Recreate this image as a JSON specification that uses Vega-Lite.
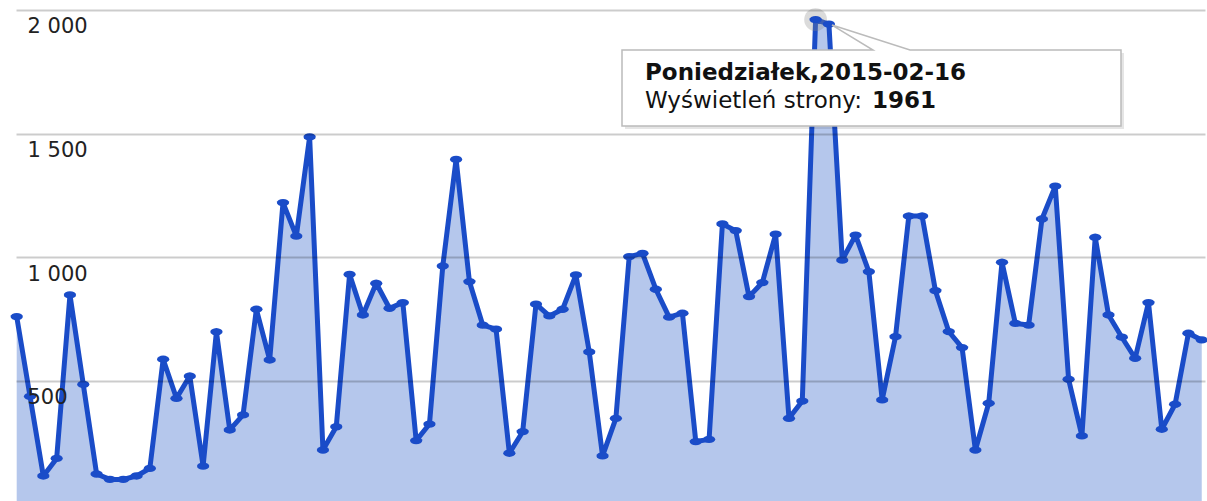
{
  "$schema": "https://vega.github.io/schema/vega-lite/v6.json",
  "width": 1189,
  "height": 501,
  "autosize": {"type": "none"},
  "padding": {"left": 16, "right": 2, "top": 0, "bottom": 0},
  "background": "white",
  "config": {"view": {"stroke": null}},
  "data": {
    "values": [
      {"date": "2014-12-18", "views": 760},
      {"date": "2014-12-19", "views": 438},
      {"date": "2014-12-20", "views": 116},
      {"date": "2014-12-21", "views": 187},
      {"date": "2014-12-22", "views": 848},
      {"date": "2014-12-23", "views": 486},
      {"date": "2014-12-24", "views": 124},
      {"date": "2014-12-25", "views": 102},
      {"date": "2014-12-26", "views": 102},
      {"date": "2014-12-27", "views": 116},
      {"date": "2014-12-28", "views": 147},
      {"date": "2014-12-29", "views": 588},
      {"date": "2014-12-30", "views": 430},
      {"date": "2014-12-31", "views": 520},
      {"date": "2015-01-01", "views": 156},
      {"date": "2015-01-02", "views": 699},
      {"date": "2015-01-03", "views": 302},
      {"date": "2015-01-04", "views": 363},
      {"date": "2015-01-05", "views": 790},
      {"date": "2015-01-06", "views": 585},
      {"date": "2015-01-07", "views": 1221},
      {"date": "2015-01-08", "views": 1086},
      {"date": "2015-01-09", "views": 1487},
      {"date": "2015-01-10", "views": 221},
      {"date": "2015-01-11", "views": 315},
      {"date": "2015-01-12", "views": 931},
      {"date": "2015-01-13", "views": 767},
      {"date": "2015-01-14", "views": 895},
      {"date": "2015-01-15", "views": 794},
      {"date": "2015-01-16", "views": 817},
      {"date": "2015-01-17", "views": 259},
      {"date": "2015-01-18", "views": 326},
      {"date": "2015-01-19", "views": 965},
      {"date": "2015-01-20", "views": 1396},
      {"date": "2015-01-21", "views": 902},
      {"date": "2015-01-22", "views": 726},
      {"date": "2015-01-23", "views": 710},
      {"date": "2015-01-24", "views": 208},
      {"date": "2015-01-25", "views": 295},
      {"date": "2015-01-26", "views": 811},
      {"date": "2015-01-27", "views": 763},
      {"date": "2015-01-28", "views": 790},
      {"date": "2015-01-29", "views": 929},
      {"date": "2015-01-30", "views": 618},
      {"date": "2015-01-31", "views": 197},
      {"date": "2015-02-01", "views": 349},
      {"date": "2015-02-02", "views": 1003},
      {"date": "2015-02-03", "views": 1016},
      {"date": "2015-02-04", "views": 871},
      {"date": "2015-02-05", "views": 758},
      {"date": "2015-02-06", "views": 774},
      {"date": "2015-02-07", "views": 255},
      {"date": "2015-02-08", "views": 264},
      {"date": "2015-02-09", "views": 1135},
      {"date": "2015-02-10", "views": 1108},
      {"date": "2015-02-11", "views": 841},
      {"date": "2015-02-12", "views": 898},
      {"date": "2015-02-13", "views": 1094},
      {"date": "2015-02-14", "views": 349},
      {"date": "2015-02-15", "views": 419},
      {"date": "2015-02-16", "views": 1961},
      {"date": "2015-02-17", "views": 1943},
      {"date": "2015-02-18", "views": 989},
      {"date": "2015-02-19", "views": 1090},
      {"date": "2015-02-20", "views": 942},
      {"date": "2015-02-21", "views": 424},
      {"date": "2015-02-22", "views": 679},
      {"date": "2015-02-23", "views": 1167},
      {"date": "2015-02-24", "views": 1167},
      {"date": "2015-02-25", "views": 865},
      {"date": "2015-02-26", "views": 700},
      {"date": "2015-02-27", "views": 635},
      {"date": "2015-02-28", "views": 221},
      {"date": "2015-03-01", "views": 410},
      {"date": "2015-03-02", "views": 980},
      {"date": "2015-03-03", "views": 733},
      {"date": "2015-03-04", "views": 726},
      {"date": "2015-03-05", "views": 1155},
      {"date": "2015-03-06", "views": 1288},
      {"date": "2015-03-07", "views": 507},
      {"date": "2015-03-08", "views": 278},
      {"date": "2015-03-09", "views": 1081},
      {"date": "2015-03-10", "views": 767},
      {"date": "2015-03-11", "views": 677},
      {"date": "2015-03-12", "views": 592},
      {"date": "2015-03-13", "views": 817},
      {"date": "2015-03-14", "views": 305},
      {"date": "2015-03-15", "views": 406},
      {"date": "2015-03-16", "views": 693},
      {"date": "2015-03-17", "views": 666}
    ]
  },
  "encoding": {
    "x": {
      "field": "date",
      "type": "temporal",
      "scale": {
        "type": "utc",
        "domain": [
          {"year": 2014, "month": 12, "date": 17, "hours": 22, "minutes": 44, "utc": true},
          {"year": 2015, "month": 3, "date": 17, "hours": 5, "minutes": 53, "utc": true}
        ]
      },
      "axis": null
    },
    "y": {
      "field": "views",
      "type": "quantitative",
      "scale": {"domain": [14.8, 2040.4], "nice": false, "zero": false},
      "axis": {
        "values": [500, 1000, 1500, 2000],
        "title": null,
        "domain": false,
        "ticks": false,
        "tickSize": 0,
        "grid": true,
        "gridColor": "#000000",
        "gridOpacity": 0.2,
        "gridWidth": 2,
        "labelAlign": "left",
        "labelPadding": -11,
        "labelBaseline": "middle",
        "labelOffset": 17,
        "labelFont": "DejaVu Sans",
        "labelFontSize": 21,
        "labelColor": "#222222",
        "labelExpr": "replace(format(datum.value, ','), ',', ' ')",
        "zindex": 1
      }
    }
  },
  "layer": [
    {
      "mark": {"type": "area", "color": "#b5c7ec", "opacity": 1, "clip": true},
      "encoding": {"y2": {"datum": 0}}
    },
    {
      "mark": {"type": "line", "color": "#1a4cc8", "strokeWidth": 5, "strokeJoin": "round"}
    },
    {
      "transform": [{"filter": {"field": "views", "equal": 1961}}],
      "mark": {"type": "point", "filled": true, "color": "#888888", "opacity": 0.3, "size": 520}
    },
    {
      "mark": {
        "type": "point",
        "filled": true,
        "color": "#1a4cc8",
        "opacity": 1,
        "size": 150,
        "shape": "M1,0L0.924,0.23L0.707,0.424L0.383,0.554L0,0.6L-0.383,0.554L-0.707,0.424L-0.924,0.23L-1,0L-0.924,-0.23L-0.707,-0.424L-0.383,-0.554L0,-0.6L0.383,-0.554L0.707,-0.424L0.924,-0.23Z"
      }
    },
    {
      "transform": [{"filter": {"field": "views", "equal": 1961}}],
      "mark": {
        "type": "point",
        "filled": true,
        "color": "#000000",
        "opacity": 0.1,
        "size": 40000,
        "shape": "M-1.906,0.334L3.084,0.334L3.084,1.094L-1.906,1.094Z"
      }
    },
    {
      "transform": [{"filter": {"field": "views", "equal": 1961}}],
      "mark": {
        "type": "point",
        "filled": true,
        "fill": "#ffffff",
        "stroke": "#bbbbbb",
        "strokeWidth": 1.5,
        "opacity": 1,
        "size": 40000,
        "shape": "M-1.936,0.304L0.574,0.304L0.164,0.054L0.944,0.304L3.054,0.304L3.054,1.064L-1.936,1.064Z"
      }
    },
    {
      "transform": [{"filter": {"field": "views", "equal": 1961}}],
      "mark": {
        "type": "text",
        "text": "Poniedziałek,2015-02-16",
        "font": "DejaVu Sans",
        "fontSize": 23,
        "fontWeight": "bold",
        "color": "#111111",
        "align": "left",
        "baseline": "alphabetic",
        "dx": -170.6,
        "dy": 60.4
      }
    },
    {
      "transform": [{"filter": {"field": "views", "equal": 1961}}],
      "mark": {
        "type": "text",
        "text": "Wyświetleń strony:",
        "font": "DejaVu Sans",
        "fontSize": 23,
        "color": "#111111",
        "align": "left",
        "baseline": "alphabetic",
        "dx": -170.6,
        "dy": 88.4
      }
    },
    {
      "transform": [{"filter": {"field": "views", "equal": 1961}}],
      "mark": {
        "type": "text",
        "font": "DejaVu Sans",
        "fontSize": 23,
        "fontWeight": "bold",
        "color": "#111111",
        "align": "left",
        "baseline": "alphabetic",
        "dx": 56.4,
        "dy": 88.4
      },
      "encoding": {"text": {"field": "views", "type": "quantitative", "format": "d"}}
    }
  ]
}
